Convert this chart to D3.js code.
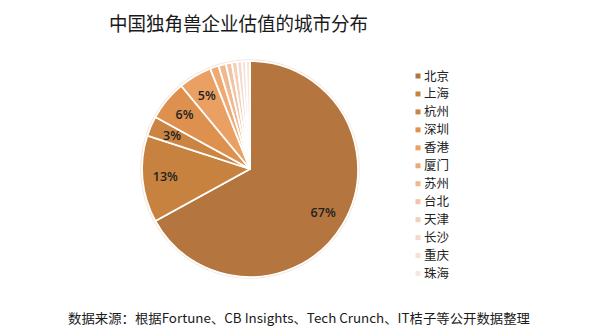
<!DOCTYPE html>
<html>
<head>
<meta charset="utf-8">
<script src="https://cdn.jsdelivr.net/npm/d3@7/dist/d3.min.js"></script>
<style>
  html, body { margin: 0; padding: 0; background: #fff; }
  svg { display: block; }
</style>
</head>
<body>
<svg id="chart" width="600" height="332"></svg>
<script>
// Unicorn valuation share by city (%)
const cities = ["北京", "上海", "杭州", "深圳", "香港", "厦门", "苏州", "台北", "天津", "长沙", "重庆", "珠海"];
const shares = [67, 13, 3, 6, 5, 1.3, 1.1, 0.9, 0.8, 0.7, 0.6, 0.6];
const colors = ["#b4763e", "#c7823f", "#cb8442", "#de914f", "#e9a062", "#eeaa72",
                "#efb88f", "#f2c4a6", "#f4cfb9", "#f6d9cc", "#f8e0d8", "#f9e6e1"];

const title = "中国独角兽企业估值的城市分布";
const source = "数据来源：根据Fortune、CB Insights、Tech Crunch、IT桔子等公开数据整理";

const svg = d3.select("#chart");
const cjk = "'Noto Sans CJK SC', 'Noto Sans', sans-serif";

const data = cities.map((c, i) => ({ city: c, value: shares[i], color: colors[i] }));

svg.append("text")
  .attr("x", 109).attr("y", 31)
  .attr("font-family", cjk)
  .attr("font-size", 19.5)
  .attr("fill", "#1a1a1a")
  .attr("textLength", 259)
  .attr("lengthAdjust", "spacingAndGlyphs")
  .text(title);

const cx = 250, cy = 169, R = 108;
const g = svg.append("g").attr("transform", `translate(${cx},${cy})`);

const pie = d3.pie().sort(null).value(d => d.value);
const arcs = pie(data);
const arc = d3.arc().innerRadius(0).outerRadius(R);
const labelArc = d3.arc().innerRadius(85).outerRadius(85);

g.append("circle").attr("r", R + 1).attr("fill", "none")
  .attr("stroke", "#efe4da").attr("stroke-width", 1.5);

g.selectAll("path.slice")
  .data(arcs)
  .join("path")
  .attr("class", "slice")
  .attr("d", arc)
  .attr("fill", d => d.data.color)
  .attr("stroke", "#fff")
  .attr("stroke-width", 1.8)
  .attr("stroke-linejoin", "round");

g.selectAll("text.pct")
  .data(arcs.filter(d => d.data.value >= 3))
  .join("text")
  .attr("class", "pct")
  .attr("transform", d => `translate(${labelArc.centroid(d)})`)
  .attr("text-anchor", "middle")
  .attr("dy", "0.35em")
  .attr("font-family", "'Open Sans', 'DejaVu Sans', sans-serif")
  .attr("font-weight", 600)
  .attr("font-size", 12.5)
  .attr("fill", "#222")
  .text(d => Math.round(d.data.value) + "%");

// Legend
const ly = d3.scalePoint().domain(cities).range([76, 273.5]);
const legend = svg.append("g");
const items = legend.selectAll("g").data(data).join("g")
  .attr("transform", d => `translate(418,${ly(d.city)})`);
items.append("rect")
  .attr("x", -2.5).attr("y", -2.5).attr("width", 5).attr("height", 5)
  .attr("fill", d => d.color);
items.append("text")
  .attr("x", 6).attr("dy", "0.36em")
  .attr("font-family", cjk)
  .attr("font-size", 12.5)
  .attr("fill", "#222")
  .text(d => d.city);

const src = svg.append("text")
  .attr("x", 68).attr("y", 323)
  .attr("font-family", "'Noto Sans CJK SC', 'Noto Sans', sans-serif")
  .attr("font-size", 13)
  .attr("fill", "#1a1a1a")
  .text(source);
const w = src.node().getComputedTextLength();
if (w > 0) src.attr("textLength", 462).attr("lengthAdjust", "spacingAndGlyphs");
</script>
</body>
</html>
